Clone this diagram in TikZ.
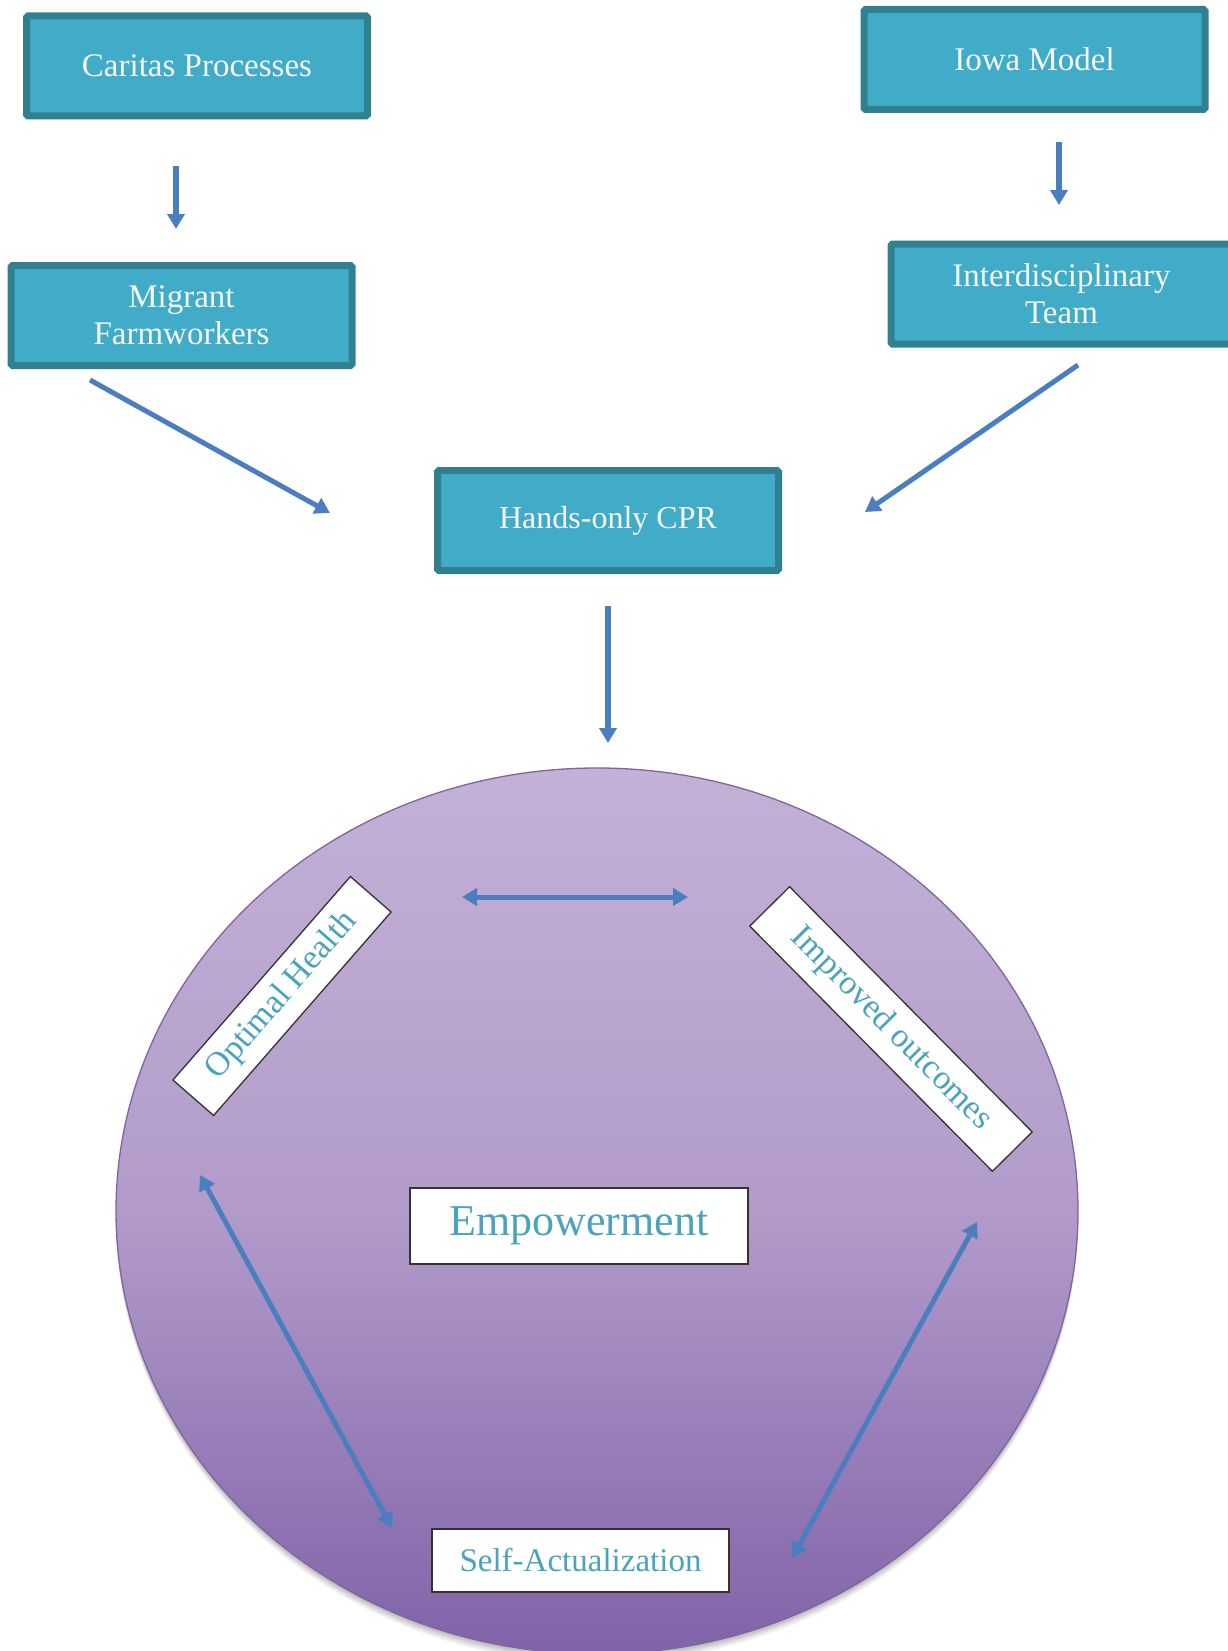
\documentclass[tikz,border=0pt]{standalone}
\usepackage{fontspec}
\setmainfont{Liberation Serif}
\usetikzlibrary{arrows.meta,shapes.geometric}
\definecolor{boxfill}{HTML}{41ACC7}
\definecolor{boxline}{HTML}{30808F}
\definecolor{arrowblue}{HTML}{4A7EBF}
\definecolor{lavtop}{HTML}{C3B1D7}
\definecolor{lavmid}{HTML}{B29BCA}
\definecolor{lavbot}{HTML}{8063A8}
\definecolor{ellline}{HTML}{8064A2}
\definecolor{tealtext}{HTML}{4AA3BC}
\definecolor{boxtext}{HTML}{F4F6F7}
\begin{document}
\begin{tikzpicture}[x=1pt,y=-1pt,
  topbox/.style={draw=boxline, fill=boxfill, line width=7pt, rounded corners=1.5pt,
    minimum width=341pt, minimum height=100pt, text=boxtext,
    font=\fontsize{33}{37}\selectfont, align=center, inner sep=0pt, outer sep=0pt},
  labelbox/.style={draw=black!80, fill=white, line width=1.3pt, text=tealtext,
    inner sep=0pt, outer sep=0pt},
  conn/.style={draw=arrowblue, line width=5.5pt, -{Triangle[length=15pt,width=17pt]}},
  conntwo/.style={draw=arrowblue, line width=5pt, {Triangle[length=15pt,width=17pt]}-{Triangle[length=15pt,width=17pt]}},
]
\useasboundingbox (0,0) rectangle (1228,1651);

% ellipse shadow
\foreach \o/\s in {0.05/9,0.06/7,0.07/5,0.08/3}{
  \fill[black, opacity=\o] (597,1211+\s) ellipse [x radius=481pt, y radius=443pt];
}
\node[ellipse, draw=ellline, line width=1.3pt, minimum width=962pt, minimum height=886pt,
  inner sep=0pt, outer sep=0pt, top color=lavtop, bottom color=lavbot, middle color=lavmid]
  (circ) at (597,1211) {};

% top boxes
\node[topbox] (caritas) at (197,66) {Caritas Processes};
\node[topbox] (migrant) at (181.5,315.5) {Migrant\\Farmworkers};
\node[topbox] (iowa) at (1034.5,59.5) {Iowa Model};
\node[topbox] (inter) at (1061.5,294) {Interdisciplinary\\Team};
\node[topbox, font=\fontsize{32}{36}\selectfont] (hands) at (608,520.5) {Hands-only CPR};

% labels in circle
\node[labelbox, minimum width=338pt, minimum height=76pt, font=\fontsize{44}{48}\selectfont]
  (emp) at (579,1226) {Empowerment};
\node[labelbox, minimum width=297pt, minimum height=63pt, font=\fontsize{33}{36}\selectfont]
  (self) at (580.5,1560.5) {Self-Actualization};
\node[labelbox, rotate=48.9, minimum width=270pt, minimum height=54pt, font=\fontsize{34}{36}\selectfont]
  (opt) at (282,996) {Optimal Health};
\node[labelbox, rotate=-45.3, minimum width=345pt, minimum height=56pt, font=\fontsize{34}{36}\selectfont]
  (impr) at (891,1029) {Improved outcomes};

% connector end points
\coordinate (c1s) at (176,166);  \coordinate (c1e) at (176,229);
\coordinate (c2s) at (1059,142); \coordinate (c2e) at (1059,205);
\coordinate (c3s) at (90,380);   \coordinate (c3e) at (330,513);
\coordinate (c4s) at (1078,365); \coordinate (c4e) at (865,512);
\coordinate (c5s) at (608,606);  \coordinate (c5e) at (608,743);
\coordinate (d1s) at (462,897);  \coordinate (d1e) at (688,897);
\coordinate (d2s) at (200,1175); \coordinate (d2e) at (392,1528);
\coordinate (d3s) at (977,1222); \coordinate (d3e) at (792,1558);

\draw[conn] (c1s) -- (c1e);
\draw[conn] (c2s) -- (c2e);
\draw[conn, line width=5pt] (c3s) -- (c3e);
\draw[conn, line width=5pt] (c4s) -- (c4e);
\draw[conn] (c5s) -- (c5e);
\draw[conntwo] (d1s) -- (d1e);
\draw[conntwo] (d2s) -- (d2e);
\draw[conntwo] (d3s) -- (d3e);
\end{tikzpicture}
\end{document}
